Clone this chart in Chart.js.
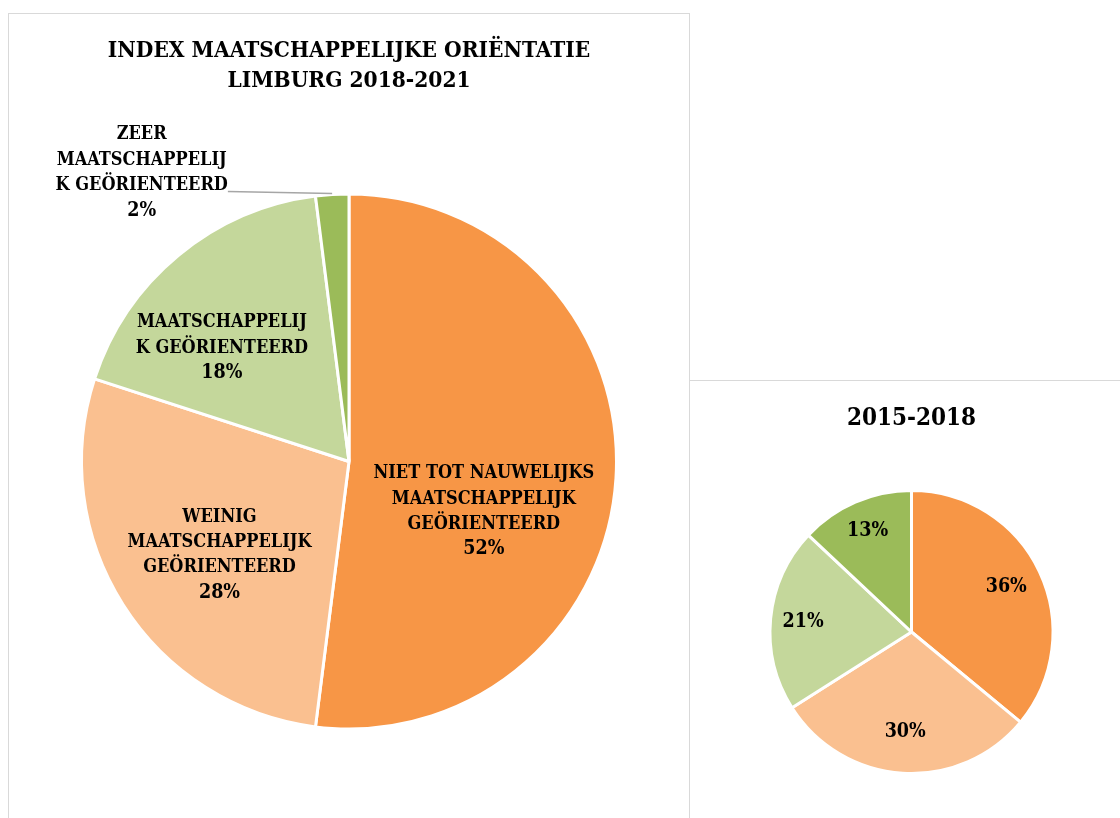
<!DOCTYPE html>
<html>
<head>
<meta charset="utf-8">
<script src="https://cdn.jsdelivr.net/npm/chart.js@4.4.1/dist/chart.umd.min.js"></script>
<style>
  html, body { margin: 0; padding: 0; background: #fff; overflow: hidden; }
  body { width: 1120px; height: 818px; position: relative; }
  .panel { position: absolute; border: 1px solid #d9d9d9; box-sizing: border-box; background: #fff; }
  #leftPanel { left: 8px; top: 13px; width: 682px; height: 830px; }
  #rightPanel { left: 689px; top: 380px; width: 460px; height: 460px; }
  canvas { position: absolute; left: 0; top: 0; }
</style>
</head>
<body>
<div class="panel" id="leftPanel"><canvas id="chart2021" width="680" height="804"></canvas></div>
<div class="panel" id="rightPanel"><canvas id="chart2018" width="430" height="437"></canvas></div>

<script>
// Maatschappelijke orientatie, Limburg

const categories = [
    'NIET TOT NAUWELIJKS MAATSCHAPPELIJK GEÖRIENTEERD',
    'WEINIG MAATSCHAPPELIJK GEÖRIENTEERD',
    'MAATSCHAPPELIJK GEÖRIENTEERD',
    'ZEER MAATSCHAPPELIJK GEÖRIENTEERD'
];
// how the category names are wrapped in the slice labels
const categoryLines = [
    ['NIET TOT NAUWELIJKS', 'MAATSCHAPPELIJK', 'GEÖRIENTEERD'],
    ['WEINIG', 'MAATSCHAPPELIJK', 'GEÖRIENTEERD'],
    ['MAATSCHAPPELIJ', 'K GEÖRIENTEERD'],
    ['ZEER', 'MAATSCHAPPELIJ', 'K GEÖRIENTEERD']
];
const values2021 = [52, 28, 18, 2];
const values2018 = [36, 30, 21, 13];
const sliceColors = ['#F79646', '#FAC090', '#C4D79B', '#9BBB59'];

const titleMain = ['INDEX MAATSCHAPPELIJKE ORIËNTATIE', 'LIMBURG 2018-2021'];
const titleSmall = '2015-2018';

const serif = "'DejaVu Serif Condensed', 'Liberation Serif', serif";

// draws the data labels on (or next to) each slice
const sliceLabels = {
    id: 'sliceLabels',
    afterDatasetsDraw(chart, args, opts) {
        const ctx = chart.ctx;
        const meta = chart.getDatasetMeta(0);
        const values = chart.data.datasets[0].data;
        ctx.save();
        ctx.fillStyle = opts.color;
        ctx.textAlign = 'center';
        ctx.textBaseline = 'middle';
        meta.data.forEach((arc, i) => {
            const p = opts.place[i];
            const mid = (arc.startAngle + arc.endAngle) / 2;
            const r = arc.outerRadius * p.frac;
            const x = arc.x + Math.cos(mid) * r + (p.dx || 0);
            const y = arc.y + Math.sin(mid) * r + (p.dy || 0);
            const lines = opts.lines ? opts.lines[i] : [];
            const top = y - lines.length * opts.lineHeight / 2;

            ctx.font = opts.font;
            lines.forEach((t, k) => ctx.fillText(t, x, top + k * opts.lineHeight));
            const maxW = Math.max(0, ...lines.map(t => ctx.measureText(t).width));
            ctx.font = opts.pctFont;
            ctx.fillText(values[i] + '%', x, top + lines.length * opts.lineHeight);

            if (p.leader) {
                const sx = arc.x + Math.cos(mid) * (arc.outerRadius + 1);
                const sy = arc.y + Math.sin(mid) * (arc.outerRadius + 1);
                ctx.strokeStyle = '#a6a6a6';
                ctx.lineWidth = 1.5;
                ctx.beginPath();
                ctx.moveTo(sx, sy);
                ctx.lineTo(x + maxW / 2, y + opts.lineHeight * 0.75);
                ctx.stroke();
            }
        });
        ctx.restore();
    }
};

function pieOptions(title, titleSize, titlePad, layoutPad, labelOpts) {
    return {
        responsive: false,
        animation: false,
        rotation: 0,
        layout: { padding: layoutPad },
        plugins: {
            legend: { display: false },
            tooltip: { enabled: false },
            title: {
                display: true,
                text: title,
                color: '#000',
                font: { family: serif, size: titleSize, weight: 'bold', lineHeight: 30 / titleSize },
                padding: titlePad
            },
            sliceLabels: labelOpts
        }
    };
}

new Chart(document.getElementById('chart2021'), {
    type: 'pie',
    data: {
        labels: categories,
        datasets: [{
            data: values2021,
            backgroundColor: sliceColors,
            borderColor: '#fff',
            borderWidth: 3
        }]
    },
    options: pieOptions(titleMain, 22.5, { top: 22, bottom: 96.5 }, { left: 71, right: 71, top: 0, bottom: 87.5 }, {
        font: "bold 18px " + serif,
        pctFont: "bold 19.5px " + serif,
        color: '#000',
        lineHeight: 25.3,
        lines: categoryLines,
        place: [
            { frac: 0.505, dx: 0, dy: 41.5 },
            { frac: 0.6, dx: 6, dy: 7.5 },
            { frac: 0.64, dx: -18, dy: 18.5 },
            { frac: 1.09, dx: -189, dy: 2, leader: true }
        ]
    }),
    plugins: [sliceLabels]
});

new Chart(document.getElementById('chart2018'), {
    type: 'pie',
    data: {
        labels: categories,
        datasets: [{
            data: values2018,
            backgroundColor: sliceColors,
            borderColor: '#fff',
            borderWidth: 3
        }]
    },
    options: pieOptions(titleSmall, 24, { top: 23, bottom: 55 }, { left: 78.5, right: 65.5, top: 0, bottom: 43 }, {
        font: "bold 18px " + serif,
        pctFont: "bold 19.5px " + serif,
        color: '#000',
        lineHeight: 25.3,
        place: [
            { frac: 0.74 },
            { frac: 0.71 },
            { frac: 0.77 },
            { frac: 0.78 }
        ]
    }),
    plugins: [sliceLabels]
});
</script>
</body>
</html>
